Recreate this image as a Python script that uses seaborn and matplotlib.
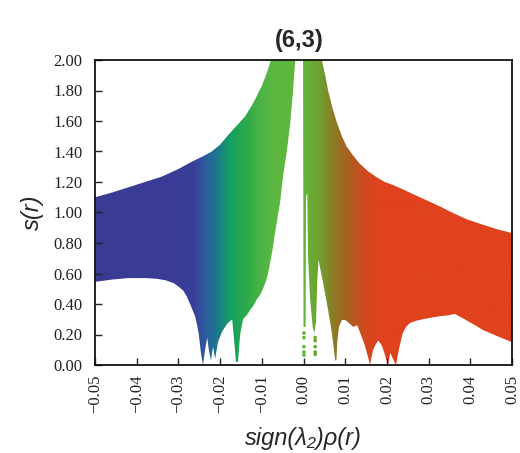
import numpy as np
import matplotlib
matplotlib.use("Agg")
import matplotlib.pyplot as plt
from matplotlib.colors import LinearSegmentedColormap
from matplotlib.patches import Polygon
from matplotlib.ticker import FuncFormatter, MultipleLocator
import seaborn as sns

# Upper envelope of the reduced density gradient cloud
rho_upper = [-0.0500, -0.0460, -0.0420, -0.0380, -0.0340, -0.0300, -0.0270,
             -0.0240, -0.0220, -0.0200, -0.0180, -0.0160, -0.0140, -0.0120,
             -0.0100, -0.0090, -0.0078,
             0.0044, 0.0052, 0.0059, 0.0070, 0.0080, 0.0092, 0.0104, 0.0120,
             0.0135, 0.0155, 0.0176, 0.0195, 0.0215, 0.0240, 0.0263, 0.0295,
             0.0327, 0.0360, 0.0392, 0.0430, 0.0465, 0.0500]
s_upper = [1.10, 1.13, 1.165, 1.20, 1.235, 1.285, 1.33,
           1.37, 1.40, 1.445, 1.51, 1.57, 1.63, 1.72,
           1.83, 1.90, 2.00,
           2.00, 1.90, 1.80, 1.68, 1.59, 1.50, 1.43, 1.37,
           1.32, 1.27, 1.23, 1.20, 1.18, 1.15, 1.12, 1.08,
           1.04, 0.995, 0.955, 0.92, 0.89, 0.865]

# Lower envelope (spikes mark the critical points)
rho_lower = [-0.0500, -0.0460, -0.0420, -0.0380, -0.0350, -0.0330, -0.0310,
             -0.0298, -0.0289, -0.0280, -0.0272, -0.0266, -0.0260, -0.0255,
             -0.0251, -0.0246, -0.0241, -0.0236, -0.0231, -0.0227, -0.0222,
             -0.0217, -0.0212, -0.0205, -0.0195, -0.0183, -0.0171, -0.0167,
             -0.0162, -0.0157, -0.0152, -0.0145, -0.0135, -0.0128, -0.0120,
             -0.0112, -0.0104, -0.0097, -0.0090, -0.0085, -0.0080, -0.0074,
             -0.0068, -0.0062, -0.0056, -0.0049, -0.0040, -0.0032, -0.0025,
             -0.0020, -0.0001,
             0.0000, 0.0005, 0.0006, 0.0009, 0.0011, 0.0016, 0.0022, 0.0026,
             0.0030, 0.0033, 0.0036, 0.0041, 0.0047, 0.0053, 0.0059, 0.0064,
             0.0068, 0.0073, 0.0076, 0.0079, 0.0081, 0.0085, 0.0092, 0.0100,
             0.0107, 0.0119, 0.0129, 0.0136, 0.0143, 0.0148, 0.0153, 0.0156,
             0.0160, 0.0163, 0.0167, 0.0172, 0.0179, 0.0185, 0.0189, 0.0195,
             0.0198, 0.0203, 0.0208, 0.0213, 0.0218, 0.0222, 0.0225, 0.0231,
             0.0238, 0.0246, 0.0255, 0.0270, 0.0286, 0.0305, 0.0327, 0.0345,
             0.0363, 0.0380, 0.0399, 0.0415, 0.0430, 0.0464, 0.0500]
s_lower = [0.545, 0.56, 0.57, 0.57, 0.565, 0.555, 0.535,
           0.51, 0.49, 0.45, 0.40, 0.36, 0.32, 0.26,
           0.20, 0.08, 0.00, 0.10, 0.18, 0.10, 0.03,
           0.12, 0.04, 0.15, 0.22, 0.27, 0.30, 0.18,
           0.02, 0.02, 0.20, 0.30, 0.33, 0.36, 0.39,
           0.43, 0.46, 0.50, 0.55, 0.60, 0.67, 0.76,
           0.87, 0.97, 1.07, 1.24, 1.40, 1.58, 1.80,
           2.00, 2.00,
           0.25, 0.25, 1.10, 1.13, 0.70, 0.43, 0.25, 0.21,
           0.28, 0.55, 0.69, 0.62, 0.54, 0.45, 0.36, 0.28,
           0.21, 0.10, 0.03, 0.03, 0.15, 0.25, 0.295, 0.295,
           0.28, 0.25, 0.26, 0.21, 0.16, 0.12, 0.07, 0.04,
           0.00, 0.05, 0.10, 0.13, 0.16, 0.14, 0.12, 0.07,
           0.04, 0.00, 0.08, 0.05, 0.02, 0.00, 0.05, 0.13,
           0.21, 0.25, 0.275, 0.29, 0.30, 0.31, 0.32, 0.325,
           0.335, 0.31, 0.28, 0.255, 0.23, 0.19, 0.15]

# Sparse points below the two narrow strands near rho = 0
rho_dots = [0.0001, 0.0001, 0.0001, 0.0001, 0.0001,
            0.0028, 0.0028, 0.0028, 0.0028, 0.0028]
s_dots = [0.21, 0.18, 0.12, 0.085, 0.065,
          0.18, 0.16, 0.12, 0.085, 0.07]

# Colour scale along sign(lambda2)rho
cmap_stops = [-0.0500, -0.0300, -0.0265, -0.0241, -0.0207, -0.0176, -0.0135,
              -0.0080, 0.0000, 0.0040, 0.0071, 0.0104, 0.0143, 0.0176, 0.0500]
cmap_colors = ["#3a3b94", "#3a3b94", "#383f97", "#2f56a0", "#1b7a8c",
               "#12a062", "#30ab48", "#5bb843", "#62b538", "#6fa030",
               "#8c7c26", "#a66222", "#cc4b20", "#e0421e", "#e0421e"]

x_ticks = [-0.05, -0.04, -0.03, -0.02, -0.01, 0.00, 0.01, 0.02, 0.03, 0.04, 0.05]

sns.set_style("ticks")
plt.rcParams["font.family"] = ["Liberation Serif", "DejaVu Serif"]
plt.rcParams["xtick.direction"] = "in"
plt.rcParams["ytick.direction"] = "in"

xmin, xmax = cmap_stops[0], cmap_stops[-1]
pos = [(v - xmin) / (xmax - xmin) for v in cmap_stops]
nci_cmap = LinearSegmentedColormap.from_list("nci", list(zip(pos, cmap_colors)))

fig = plt.figure(figsize=(5.2, 4.53), dpi=100)
ax = fig.add_axes([95 / 520, 88 / 453, 417 / 520, 305 / 453])

# Region outline: upper envelope left-to-right, lower envelope back
verts = list(zip(rho_upper, s_upper)) + list(zip(rho_lower[::-1], s_lower[::-1]))
region = Polygon(verts, closed=True, facecolor="none", edgecolor="none",
                 transform=ax.transData)
ax.add_patch(region)

grad = np.linspace(xmin, xmax, 1200)[None, :]
img = ax.imshow(grad, extent=[xmin, xmax, 0.0, 2.0], origin="lower",
                aspect="auto", cmap=nci_cmap, vmin=xmin, vmax=xmax,
                interpolation="bilinear")
img.set_clip_path(region)

dot_colors = [nci_cmap((v - xmin) / (xmax - xmin)) for v in rho_dots]
sns.scatterplot(x=rho_dots, y=s_dots, ax=ax, c=dot_colors, s=7,
                linewidth=0, legend=False)

ax.set_xlim(xmin, xmax)
ax.set_ylim(0.0, 2.0)
ax.set_xticks(x_ticks)
ax.yaxis.set_major_locator(MultipleLocator(0.2))
ax.xaxis.set_major_formatter(FuncFormatter(lambda v, p: f"{v:.2f}".replace("-", "\u2212")))
ax.yaxis.set_major_formatter(FuncFormatter(lambda v, p: f"{v:.2f}"))
ax.tick_params(axis="x", labelrotation=90, length=5, width=1, pad=7,
               labelsize=12, colors="#222222")
ax.tick_params(axis="y", length=5, width=1, pad=9, labelsize=12,
               colors="#222222")
for sp in ax.spines.values():
    sp.set_linewidth(1.3)
    sp.set_color("#111111")

ax.set_title("(6,3)", fontsize=17, fontweight="bold",
             family=["Liberation Sans", "DejaVu Sans"], pad=9, x=0.49)
ax.set_xlabel("sign(\u03bb\u2082)\u03c1(r)", fontsize=17, style="italic",
              family=["Liberation Sans", "DejaVu Sans"], labelpad=10)
ax.set_ylabel("s(r)", fontsize=17, style="italic",
              family=["Liberation Sans", "DejaVu Sans"], labelpad=7)

fig.savefig("out.png", dpi=100)
